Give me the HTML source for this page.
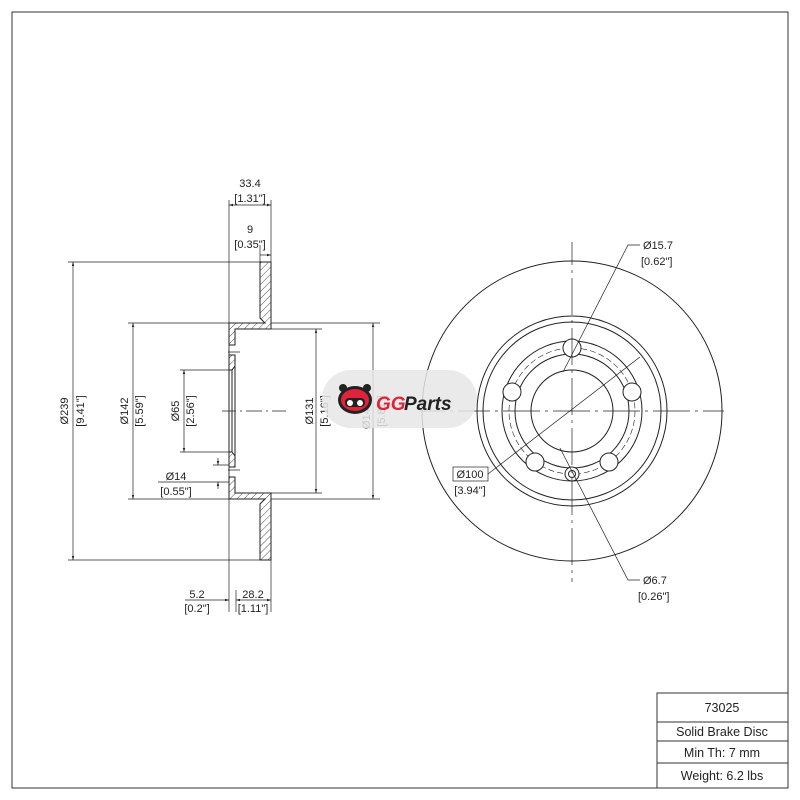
<!DOCTYPE html>
<html><head><meta charset="utf-8"><style>
html,body{margin:0;padding:0;background:#fff}
svg{display:block}
text{font-family:"Liberation Sans",sans-serif;font-size:11px;fill:#222}
</style></head><body>
<svg width="800" height="800" viewBox="0 0 800 800" xmlns="http://www.w3.org/2000/svg">
<defs>
<pattern id="h" width="5" height="5" patternUnits="userSpaceOnUse" patternTransform="rotate(45)">
<line x1="0" y1="0" x2="0" y2="5" stroke="#222" stroke-width="0.8"/></pattern>
<marker id="a" viewBox="0 0 10 10" refX="10" refY="5" markerWidth="6" markerHeight="6" orient="auto-start-reverse"><path d="M0,2 L10,5 L0,8z" fill="#222"/></marker>
</defs>
<rect x="12" y="12" width="776" height="776" fill="none" stroke="#333" stroke-width="1"/>
<!-- title block -->
<g stroke="#333" stroke-width="1" fill="none">
<path d="M657,788 V693 H788 M657,722 H788 M657,741 H788 M657,763 H788"/>
</g>
<g style="font-size:12.5px">
<text x="722" y="712" text-anchor="middle" style="font-size:12.5px">73025</text>
<text x="722" y="736" text-anchor="middle" style="font-size:12.5px">Solid Brake Disc</text>
<text x="722" y="757" text-anchor="middle" style="font-size:12.5px">Min Th: 7 mm</text>
<text x="722" y="780" text-anchor="middle" style="font-size:12.5px">Weight: 6.2 lbs</text>
</g>

<!-- SIDE VIEW -->
<g stroke="#222" stroke-width="1">
<path d="M260,262 H271 V329 H235 V345 H229 V323 H265 L260,318 Z" fill="url(#h)"/>
<path d="M260,560 H271 V493 H235 V477 H229 V499 H265 L260,504 Z" fill="url(#h)"/>
<path d="M229,355 H235 V366 L232,370 H229 Z" fill="url(#h)"/>
<path d="M229,467 H235 V456 L232,452 H229 Z" fill="url(#h)"/>
<path d="M229,370 V452 M232,370 V452 M235,366 V456" fill="none"/>
<path d="M229,345 V355 M229,467 V477" fill="none" stroke-width="0.6"/>
</g>
<g stroke="#222" stroke-width="0.7" fill="none">
<path d="M229,200 V612 M271,200 V262 M271,560 V612 M236,590 V612"/>
<path d="M68,262 H260 M68,560 H260 M128,323 H229 M128,499 H229 M180,370 H232 M180,452 H232 M158,482 H229 M213,465 H229"/>
<path d="M271,329 H322 M271,493 H322 M271,323 H380 M271,499 H380"/>
<path d="M222,411 H236 M240,411 H242 M246,411 H262 M266,411 H268 M272,411 H286" />
<path d="M228,352 H240 M228,470 H240"/>
<line x1="73" y1="262" x2="73" y2="560" marker-start="url(#a)" marker-end="url(#a)"/>
<line x1="133" y1="323" x2="133" y2="499" marker-start="url(#a)" marker-end="url(#a)"/>
<line x1="184" y1="370" x2="184" y2="452" marker-start="url(#a)" marker-end="url(#a)"/>
<line x1="316" y1="329" x2="316" y2="493" marker-start="url(#a)" marker-end="url(#a)"/>
<line x1="373" y1="323" x2="373" y2="499" marker-start="url(#a)" marker-end="url(#a)"/>
<line x1="218" y1="458" x2="218" y2="465" marker-end="url(#a)"/>
<line x1="218" y1="489" x2="218" y2="482" marker-end="url(#a)"/>
<line x1="229" y1="205" x2="271" y2="205" marker-start="url(#a)" marker-end="url(#a)"/>
<line x1="260" y1="255" x2="271" y2="255" marker-end="url(#a)"/>
<line x1="260" y1="245" x2="260" y2="262"/>
<line x1="185" y1="600" x2="229" y2="600" marker-end="url(#a)"/>
<line x1="236" y1="600" x2="271" y2="600" marker-start="url(#a)" marker-end="url(#a)"/>
</g>
<text x="250" y="187" text-anchor="middle">33.4</text>
<text x="250" y="202" text-anchor="middle">[1.31"]</text>
<text x="250" y="233" text-anchor="middle">9</text>
<text x="250" y="248" text-anchor="middle">[0.35"]</text>
<text x="197" y="598" text-anchor="middle">5.2</text>
<text x="197" y="612" text-anchor="middle">[0.2"]</text>
<text x="253" y="598" text-anchor="middle">28.2</text>
<text x="253" y="612" text-anchor="middle">[1.11"]</text>
<text x="176" y="480" text-anchor="middle">Ø14</text>
<text x="176" y="495" text-anchor="middle">[0.55"]</text>
<g text-anchor="middle">
<text transform="translate(68,411) rotate(-90)">Ø239</text>
<text transform="translate(84,411) rotate(-90)">[9.41"]</text>
<text transform="translate(128,411) rotate(-90)">Ø142</text>
<text transform="translate(143,411) rotate(-90)">[5.59"]</text>
<text transform="translate(179,411) rotate(-90)">Ø65</text>
<text transform="translate(194,411) rotate(-90)">[2.56"]</text>
<text transform="translate(313,411) rotate(-90)">Ø131</text>
<text transform="translate(328,411) rotate(-90)">[5.16"]</text>
<text transform="translate(370,411) rotate(-90)">Ø147.6</text>
<text transform="translate(385,411) rotate(-90)">[5.81"]</text>
</g>

<!-- FRONT VIEW -->
<g stroke="#222" stroke-width="1" fill="none">
<circle cx="572" cy="411" r="150"/>
<circle cx="572" cy="411" r="95"/>
<circle cx="572" cy="411" r="89"/>
<circle cx="572" cy="411" r="70"/>
<circle cx="572" cy="411" r="57"/>
<circle cx="572" cy="411" r="41"/>
<circle cx="572" cy="411" r="63" stroke-width="0.6" stroke-dasharray="6,3"/>
<g fill="#fff">
<circle cx="572" cy="348" r="9"/>
<circle cx="632" cy="392" r="9"/>
<circle cx="512" cy="392" r="9"/>
<circle cx="535" cy="462" r="9"/>
<circle cx="609" cy="462" r="9"/>
<circle cx="572" cy="474" r="7"/>
<circle cx="572" cy="474" r="3.5"/>
</g>
</g>
<g stroke="#222" stroke-width="0.7" fill="none">
<path d="M422,411 H445 M450,411 H453 M458,411 H490 M495,411 H498 M503,411 H540 M545,411 H548 M553,411 H590 M595,411 H598 M603,411 H640 M645,411 H648 M653,411 H690 M695,411 H698 M703,411 H724"/>
<path d="M572,242 V265 M572,270 V273 M572,278 V315 M572,320 V323 M572,328 V365 M572,370 V373 M572,378 V415 M572,420 V423 M572,428 V465 M572,470 V473 M572,478 V515 M572,520 V523 M572,528 V565 M572,570 V573 M572,578 V582"/>
<path d="M640,245 H628 L563,372"/>
<path d="M640,580 H628 L560,448"/>
<path d="M488,474 L640,357"/>
<rect x="453" y="467" width="35" height="14"/>
</g>
<text x="643" y="249">Ø15.7</text>
<text x="641" y="265">[0.62"]</text>
<text x="643" y="584">Ø6.7</text>
<text x="638" y="600">[0.26"]</text>
<text x="470" y="478" text-anchor="middle">Ø100</text>
<text x="470" y="494" text-anchor="middle">[3.94"]</text>

<!-- logo -->
<rect x="322" y="370" width="155" height="58" rx="29" fill="#e6e6e6" fill-opacity="0.85"/>
<g transform="translate(355,400)">
<circle cx="-12" cy="-12" r="4" fill="#222"/><circle cx="12" cy="-12" r="4" fill="#222"/>
<ellipse cx="0" cy="0" rx="17" ry="14" fill="#222"/>
<ellipse cx="0" cy="0" rx="14" ry="11" fill="#e0223a"/>
<rect x="-10" y="-2" width="20" height="9" rx="4" fill="#222"/>
<circle cx="-5" cy="3" r="3" fill="#fff"/><circle cx="5" cy="3" r="3" fill="#fff"/>
</g>
<text x="376" y="410" style="font-size:19px;font-weight:bold;font-style:italic;fill:#e0223a">GG</text>
<text x="404" y="410" style="font-size:19px;font-weight:bold;font-style:italic;fill:#222">Parts</text>
</svg>
</body></html>
